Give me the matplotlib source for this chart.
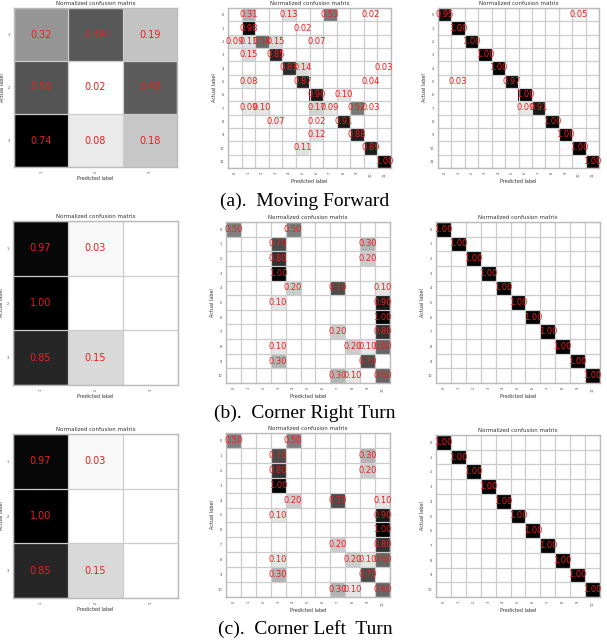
import numpy as np
import matplotlib
matplotlib.use('Agg')
from matplotlib import pyplot as plt

# 3-class matrices
fwd_3 = [[0.32, 0.49, 0.19],
         [0.50, 0.02, 0.48],
         [0.74, 0.08, 0.18]]
turn_3 = [[0.97, 0.03, 0.00],
          [1.00, 0.00, 0.00],
          [0.85, 0.15, 0.00]]
labels_3 = ['1', '2', '3']

# 12-class forward matrices
fwd_a = [[0, .31, 0, 0, .13, 0, 0, .53, 0, 0, .02, 0],
         [0, .98, 0, 0, 0, .02, 0, 0, 0, 0, 0, 0],
         [.09, .11, .58, .15, 0, 0, .07, 0, 0, 0, 0, 0],
         [0, .15, 0, .85, 0, 0, 0, 0, 0, 0, 0, 0],
         [0, 0, 0, 0, .83, .14, 0, 0, 0, 0, 0, .03],
         [0, .08, 0, 0, 0, .87, 0, 0, 0, 0, .04, 0],
         [0, 0, 0, 0, 0, 0, .90, 0, .10, 0, 0, 0],
         [0, .09, .10, 0, 0, 0, .17, .09, 0, .52, .03, 0],
         [0, 0, 0, .07, 0, 0, .02, 0, .91, 0, 0, 0],
         [0, 0, 0, 0, 0, 0, .12, 0, 0, .88, 0, 0],
         [0, 0, 0, 0, 0, .11, 0, 0, 0, 0, .89, 0],
         [0, 0, 0, 0, 0, 0, 0, 0, 0, 0, 0, 1.00]]
fwd_diag = [.95, 1.00, 1.00, 1.00, 1.00, .97, 1.00, .91, 1.00, 1.00, 1.00, 1.00]
fwd_off = [(0, 10, .05), (5, 1, .03), (7, 6, .09)]
labels_12 = [str(i) for i in range(12)]

# 11-class turn matrices
turn_a = [[.50, 0, 0, 0, .50, 0, 0, 0, 0, 0, 0],
          [0, 0, 0, .70, 0, 0, 0, 0, 0, .30, 0],
          [0, 0, 0, .80, 0, 0, 0, 0, 0, .20, 0],
          [0, 0, 0, 1.00, 0, 0, 0, 0, 0, 0, 0],
          [0, 0, 0, 0, .20, 0, 0, .70, 0, 0, .10],
          [0, 0, 0, .10, 0, 0, 0, 0, 0, 0, .90],
          [0, 0, 0, 0, 0, 0, 0, 0, 0, 0, 1.00],
          [0, 0, 0, 0, 0, 0, 0, .20, 0, 0, .80],
          [0, 0, 0, .10, 0, 0, 0, 0, .20, .10, .60],
          [0, 0, 0, .30, 0, 0, 0, 0, 0, .70, 0],
          [0, 0, 0, 0, 0, 0, 0, .30, .10, 0, .60]]
turn_diag = [1.00] * 11
labels_11 = [str(i) for i in range(11)]

captions = ['(a).  Moving Forward', '(b).  Corner Right Turn', '(c).  Corner Left  Turn']

fwd_b = np.diag(fwd_diag)
for r, c, v in fwd_off:
    fwd_b[r, c] = v
turn_b = np.diag(turn_diag)

W, H = 607, 641
fig = plt.figure(figsize=(W / 100, H / 100), dpi=100)

def rect(x0, y0, x1, y1):
    return [x0 / W, 1 - y1 / H, (x1 - x0) / W, (y1 - y0) / H]

def draw(box, mat, labels, fs):
    mat = np.array(mat, dtype=float)
    n = len(labels)
    ax = fig.add_axes(rect(*box))
    ax.imshow(mat, cmap='gray_r', interpolation='nearest', aspect='auto')
    for i in range(n):
        for j in range(n):
            if mat[i, j] > 0:
                ax.text(j, i, '%.2f' % mat[i, j], ha='center', va='center',
                        color='#e8201e', fontsize=fs)
    ax.set_xticks(range(n))
    ax.set_yticks(range(n))
    ax.set_xticklabels(labels, rotation=90, fontsize=2.5, color='#444444')
    ax.set_yticklabels(labels, fontsize=2.5, color='#444444')
    ax.set_xticks(np.arange(-0.5, n), minor=True)
    ax.set_yticks(np.arange(-0.5, n), minor=True)
    ax.grid(which='minor', color='#cccccc', lw=0.9)
    ax.tick_params(which='both', length=0, pad=3)
    for s in ax.spines.values():
        s.set_color('#bbbbbb')
        s.set_linewidth(1.0)
    ax.set_title('Normalized confusion matrix', fontsize=4, pad=2, color='#333333')
    ax.set_xlabel('Predicted label', fontsize=3.5, labelpad=2, color='#333333')
    ax.set_ylabel('Actual label', fontsize=3.5, labelpad=2, color='#333333')
    return ax

draw((14, 8, 177, 167), fwd_3, labels_3, 7)
draw((228, 8, 391, 168), fwd_a, labels_12, 6)
draw((438, 8, 599, 168), fwd_b, labels_12, 6)

draw((13, 221, 178, 385), turn_3, labels_3, 7)
draw((226, 222, 390, 383), turn_a, labels_11, 6)
draw((436, 222, 600, 383), turn_b, labels_11, 6)

draw((13, 434, 178, 598), turn_3, labels_3, 7)
draw((226, 433, 390, 597), turn_a, labels_11, 6)
draw((436, 435, 600, 597), turn_b, labels_11, 6)

for cap, y in zip(captions, [201, 413, 629]):
    fig.text(305 / W, 1 - y / H, cap, ha='center', va='center',
             fontsize=14, family='Liberation Serif')

fig.savefig('out.png', dpi=100)
